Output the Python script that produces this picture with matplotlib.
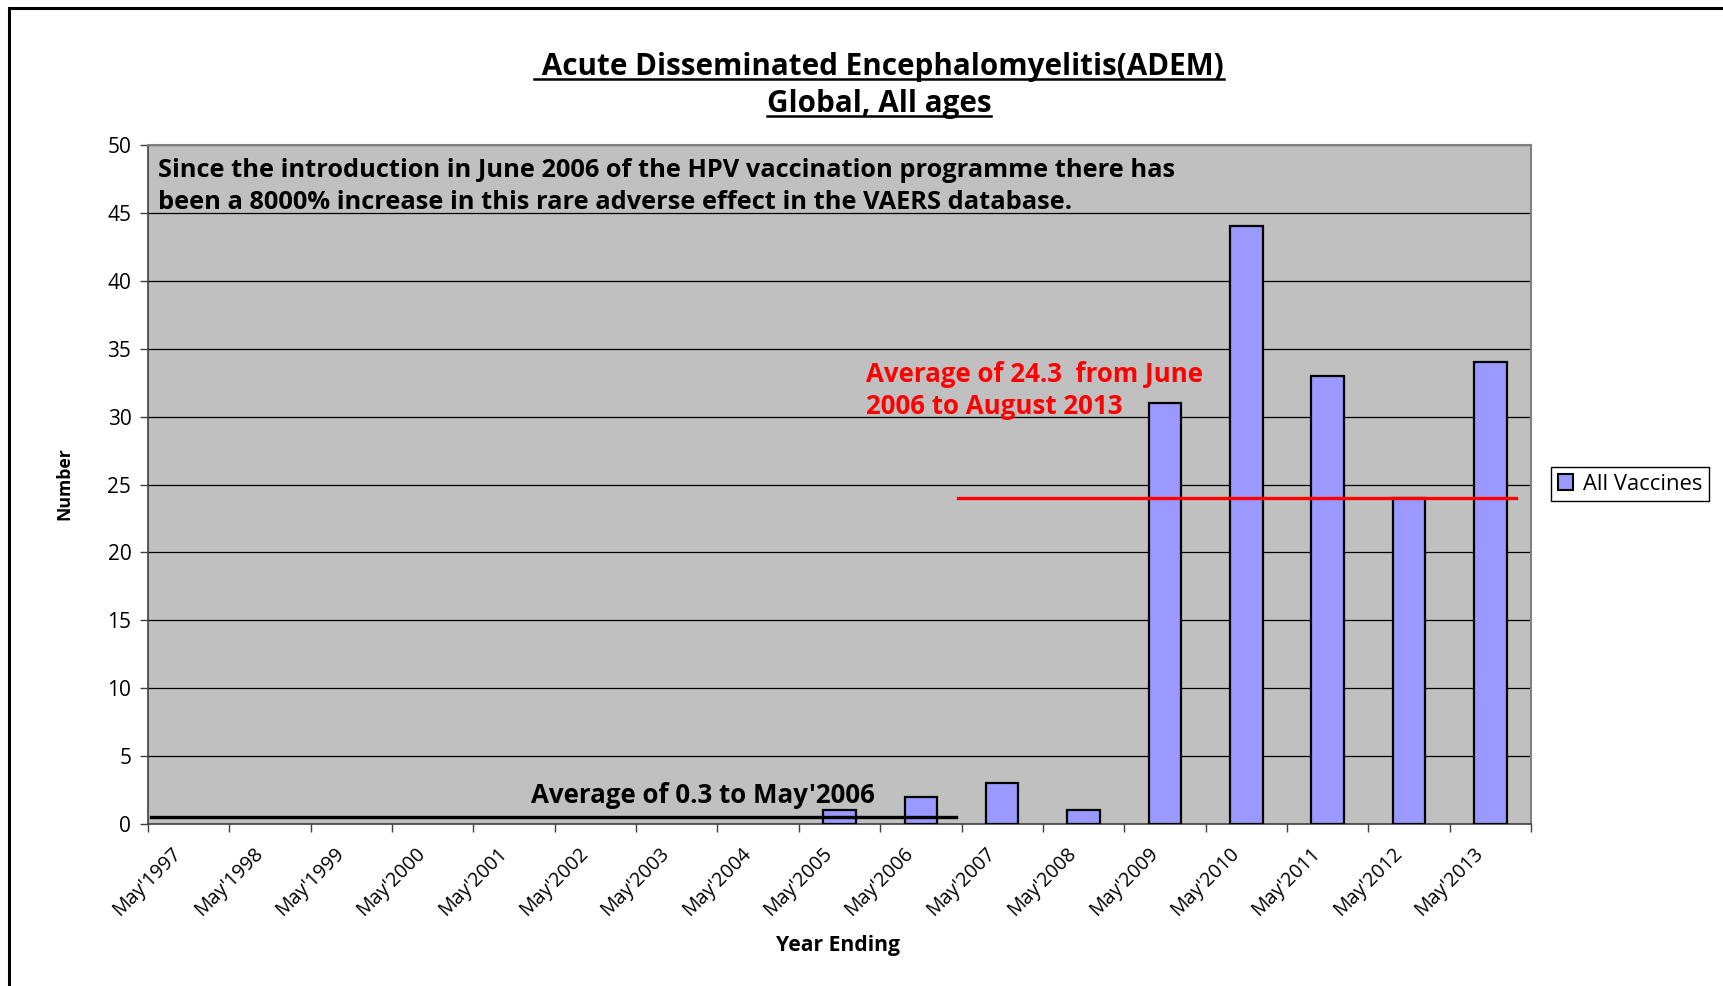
import matplotlib
matplotlib.use("Agg")
import matplotlib.pyplot as plt
import matplotlib.patches as mpatches
import matplotlib.transforms as mtransforms
from matplotlib.lines import Line2D

# Dados
anos = ["May'1997", "May'1998", "May'1999", "May'2000", "May'2001", "May'2002",
        "May'2003", "May'2004", "May'2005", "May'2006", "May'2007", "May'2008",
        "May'2009", "May'2010", "May'2011", "May'2012", "May'2013"]
casos = [0, 0, 0, 0, 0, 0, 0, 0, 1, 2, 3, 1, 31, 44, 33, 24, 34]

# Linhas de média desenhadas (x em posição de categoria, y em valor)
media_antes_x = [-0.46, 9.43]
media_antes_y = [0.5, 0.5]
media_depois_x = [9.46, 16.32]
media_depois_y = [24.0, 24.0]

COR_BARRA = "#9999FF"
COR_FUNDO = "#C0C0C0"
FONTE = "Open Sans"

plt.rcParams["font.family"] = [FONTE, "DejaVu Sans"]

fig = plt.figure(figsize=(17.23, 9.86), dpi=100, facecolor="white")
ax = fig.add_axes([148 / 1723, 1 - 824 / 986, 1383 / 1723, 679 / 986])
ax.set_facecolor(COR_FUNDO)

x = list(range(len(anos)))
barras = ax.bar(x, casos, width=0.4, color=COR_BARRA, edgecolor="black",
                linewidth=1.6, zorder=3)
# Barras com valor zero não aparecem no original
for b, v in zip(barras, casos):
    if v == 0:
        b.set_visible(False)

ax.plot(media_antes_x, media_antes_y, color="black", linewidth=2.4, zorder=4)
ax.plot(media_depois_x, media_depois_y, color="#FF0000", linewidth=2.4, zorder=4)

ax.set_xlim(-0.5, len(anos) - 0.5)
ax.set_ylim(0, 50)
ax.set_yticks(range(0, 51, 5))
ax.yaxis.grid(True, color="black", linewidth=0.9)
ax.set_axisbelow(True)

# Rótulos no centro da categoria, marcas nos limites
ax.set_xticks(x)
ax.set_xticklabels(anos, rotation=45, ha="right", fontsize=14.2)
ax.set_xticks([i - 0.5 for i in range(len(anos) + 1)], minor=True)
ax.tick_params(axis="x", which="major", length=0, pad=14)
ax.tick_params(axis="x", which="minor", length=6, width=1, color="#404040")
ax.tick_params(axis="y", length=6, width=1, color="#404040", labelsize=15, pad=6)
desloc = mtransforms.ScaledTranslation(-3 / 100, 0, fig.dpi_scale_trans)
for lbl in ax.get_xticklabels():
    lbl.set_transform(lbl.get_transform() + desloc)

for lado in ["left", "bottom"]:
    ax.spines[lado].set_color("#404040")
    ax.spines[lado].set_linewidth(1.2)
for lado in ["top", "right"]:
    ax.spines[lado].set_color("#808080")
    ax.spines[lado].set_linewidth(1.5)

# Textos dentro do gráfico
ax.text(0.0072, 0.962,
        "Since the introduction in June 2006 of the HPV vaccination programme there has",
        transform=ax.transAxes, fontsize=18.3, fontweight="bold", va="center", ha="left")
ax.text(0.0072, 0.916,
        "been a 8000% increase in this rare adverse effect in the VAERS database.",
        transform=ax.transAxes, fontsize=18.3, fontweight="bold", va="center", ha="left")
ax.text(0.519, 0.662, "Average of 24.3  from June", transform=ax.transAxes,
        fontsize=18.6, fontweight="bold", color="#FF0000", va="center", ha="left")
ax.text(0.519, 0.615, "2006 to August 2013", transform=ax.transAxes,
        fontsize=18.6, fontweight="bold", color="#FF0000", va="center", ha="left")
ax.text(0.401, 0.0425, "Average of 0.3 to May'2006", transform=ax.transAxes,
        fontsize=18.6, fontweight="bold", color="black", va="center", ha="center")

# Títulos de eixo
fig.text(64 / 1723, 1 - 484 / 986, "Number", rotation=90, fontsize=12.7,
         fontweight="bold", ha="center", va="center")
fig.text(838 / 1723, 1 - 945 / 986, "Year Ending", fontsize=15.2,
         fontweight="bold", ha="center", va="center")

# Título sublinhado
t1 = fig.text(879 / 1723, 1 - 67 / 986, " Acute Disseminated Encephalomyelitis(ADEM)",
              fontsize=21.3, fontweight="bold", ha="center", va="center")
t2 = fig.text(879 / 1723, 1 - 104 / 986, "Global, All ages",
              fontsize=21.3, fontweight="bold", ha="center", va="center")

# Legenda
legenda = [mpatches.Patch(facecolor=COR_BARRA, edgecolor="black", linewidth=1.5,
                          label="All Vaccines")]
leg = fig.legend(handles=legenda, loc="center left",
                 bbox_to_anchor=(1551 / 1723, 1 - 484 / 986), fontsize=15.8,
                 frameon=True, fancybox=False, framealpha=1, edgecolor="black",
                 handlelength=0.7, handleheight=0.7, handletextpad=0.45,
                 borderpad=0.3, borderaxespad=0)
leg.get_frame().set_linewidth(1.0)

# Moldura externa (cortada à direita e embaixo)
fig.patches.append(mpatches.Rectangle((9 / 1723, -0.1), 1.2, 1.1 - 8 / 986,
                                      transform=fig.transFigure, fill=False,
                                      edgecolor="black", linewidth=2.2))

# Sublinhado dos títulos
fig.canvas.draw()
renderer = fig.canvas.get_renderer()
inv = fig.transFigure.inverted()
for t in (t1, t2):
    bb = t.get_window_extent(renderer)
    y_lin = bb.y0 + 3
    (xa, ya), (xb, yb) = inv.transform([(bb.x0, y_lin), (bb.x1, y_lin)])
    fig.lines.append(Line2D([xa, xb], [ya, yb], transform=fig.transFigure,
                            color="black", linewidth=1.8))

fig.savefig("out.png", dpi=100, facecolor="white")
